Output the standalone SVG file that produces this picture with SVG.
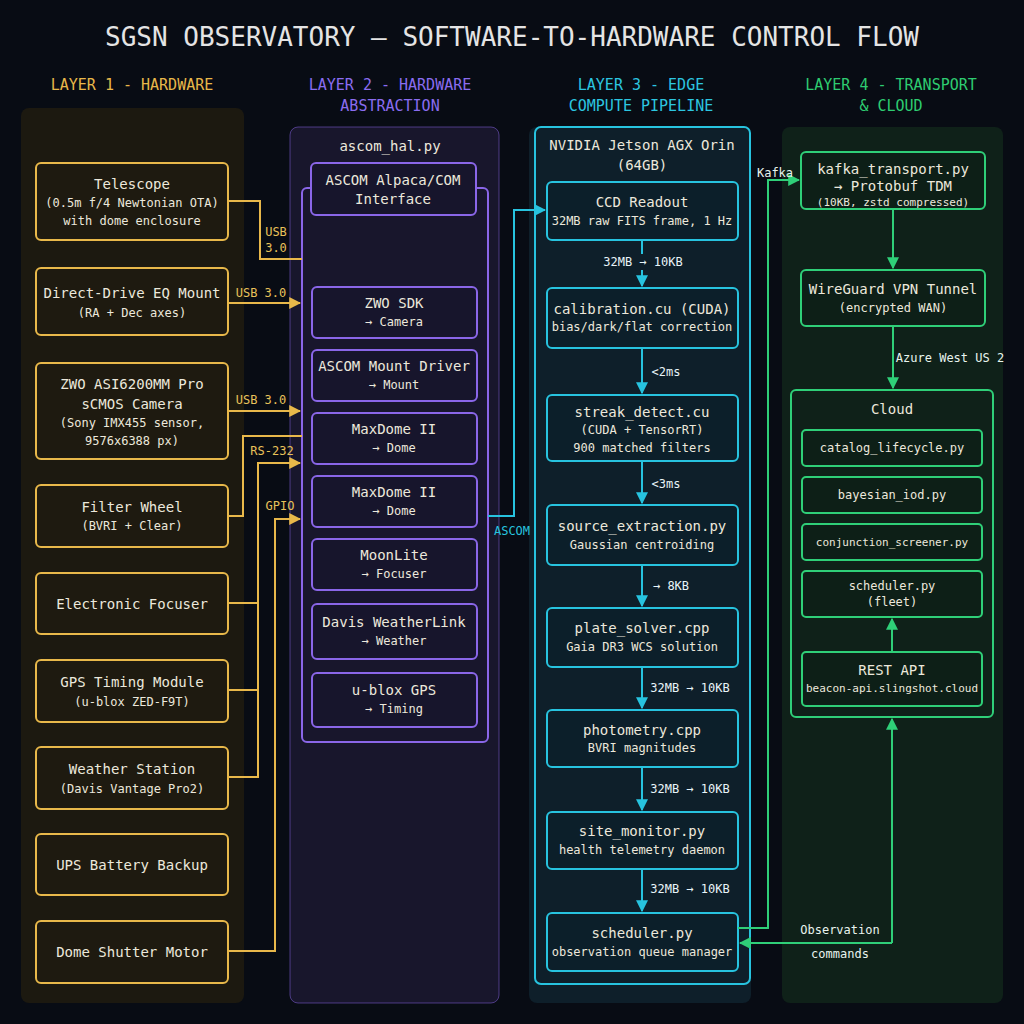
<svg xmlns="http://www.w3.org/2000/svg" width="1024" height="1024" viewBox="0 0 1024 1024">
<defs>
<style>
text{font-family:"DejaVu Sans Mono","Liberation Mono",monospace;fill:#ece8dc;text-anchor:middle}
.t{font-size:14px}.s{font-size:12px}.xs{font-size:11px}
.hdr{font-size:15px}
.n1{fill:#1e1a10;stroke:#e8b84a;stroke-width:2}
.n2{fill:#17152c;stroke:#8a66e8;stroke-width:2}
.n3{fill:#0c1f2a;stroke:#27c3df;stroke-width:2}
.n4{fill:#0d1f17;stroke:#2fcf78;stroke-width:2}
.c1{fill:none;stroke:#e8b84a;stroke-width:2}
.c3{fill:none;stroke:#27c3df;stroke-width:2}
.c4{fill:none;stroke:#2fcf78;stroke-width:2}
.l1{fill:#e8c25a;font-size:12px}
.l3{fill:#e8f4f8;font-size:12px}
.l4{fill:#e8f4ee;font-size:12px}
</style>
<marker id="a1" viewBox="0 0 10 10" refX="9" refY="5" markerWidth="6" markerHeight="6" orient="auto"><path d="M0,0L10,5L0,10z" fill="#e8b84a"/></marker>
<marker id="a3" viewBox="0 0 10 10" refX="9" refY="5" markerWidth="6" markerHeight="6" orient="auto"><path d="M0,0L10,5L0,10z" fill="#27c3df"/></marker>
<marker id="a4" viewBox="0 0 10 10" refX="9" refY="5" markerWidth="6" markerHeight="6" orient="auto"><path d="M0,0L10,5L0,10z" fill="#2fcf78"/></marker>
</defs>
<rect width="1024" height="1024" fill="#080c14"/>
<text x="512" y="46" style="font-size:26px;fill:#e4e4e4">SGSN OBSERVATORY — SOFTWARE-TO-HARDWARE CONTROL FLOW</text>

<g id="layer-headers">
<text class="hdr" x="132" y="90" style="fill:#e8b84a">LAYER 1 - HARDWARE</text>
<text class="hdr" x="390" y="90" style="fill:#8a6cf0">LAYER 2 - HARDWARE</text>
<text class="hdr" x="390" y="111" style="fill:#8a6cf0">ABSTRACTION</text>
<text class="hdr" x="641" y="90" style="fill:#2cc6e0">LAYER 3 - EDGE</text>
<text class="hdr" x="641" y="111" style="fill:#2cc6e0">COMPUTE PIPELINE</text>
<text class="hdr" x="891" y="90" style="fill:#2ecc71">LAYER 4 - TRANSPORT</text>
<text class="hdr" x="891" y="111" style="fill:#2ecc71">&amp; CLOUD</text>
</g>

<g id="panels">
<rect x="21" y="108" width="223" height="895" rx="8" fill="#1c1910"/>
<rect x="290" y="127" width="209" height="876" rx="8" fill="#18162c" stroke="#8a66e8" stroke-opacity="0.5"/>
<rect x="529" y="127" width="222" height="876" rx="8" fill="#0e1f2a"/>
<rect x="782" y="127" width="221" height="876" rx="8" fill="#0f2119"/>
</g>

<g id="layer1">
<g id="telescope"><rect class="n1" x="36" y="163" width="192" height="77" rx="5"/><text class="t" x="132" y="189">Telescope</text><text class="s" x="132" y="207">(0.5m f/4 Newtonian OTA)</text><text class="s" x="132" y="225">with dome enclosure</text></g>
<g id="mount"><rect class="n1" x="36" y="268" width="192" height="67" rx="5"/><text class="t" x="132" y="298">Direct-Drive EQ Mount</text><text class="s" x="132" y="317">(RA + Dec axes)</text></g>
<g id="camera"><rect class="n1" x="36" y="363" width="192" height="96" rx="5"/><text class="t" x="132" y="389">ZWO ASI6200MM Pro</text><text class="t" x="132" y="409">sCMOS Camera</text><text class="s" x="132" y="427">(Sony IMX455 sensor,</text><text class="s" x="132" y="445">9576x6388 px)</text></g>
<g id="filter"><rect class="n1" x="36" y="485" width="192" height="62" rx="5"/><text class="t" x="132" y="512">Filter Wheel</text><text class="s" x="132" y="530">(BVRI + Clear)</text></g>
<g id="focuser"><rect class="n1" x="36" y="573" width="192" height="61" rx="5"/><text class="t" x="132" y="609">Electronic Focuser</text></g>
<g id="gps"><rect class="n1" x="36" y="660" width="192" height="62" rx="5"/><text class="t" x="132" y="687">GPS Timing Module</text><text class="s" x="132" y="706">(u-blox ZED-F9T)</text></g>
<g id="weather"><rect class="n1" x="36" y="747" width="192" height="62" rx="5"/><text class="t" x="132" y="774">Weather Station</text><text class="s" x="132" y="793">(Davis Vantage Pro2)</text></g>
<g id="ups"><rect class="n1" x="36" y="834" width="192" height="61" rx="5"/><text class="t" x="132" y="870">UPS Battery Backup</text></g>
<g id="shutter"><rect class="n1" x="36" y="921" width="192" height="62" rx="5"/><text class="t" x="132" y="957">Dome Shutter Motor</text></g>
</g>

<g id="layer2">
<text class="t" x="390" y="151">ascom_hal.py</text>
<rect x="302" y="188" width="186" height="554" rx="5" fill="none" stroke="#8a66e8" stroke-width="2"/>
<g id="alpaca"><rect class="n2" x="311" y="163" width="165" height="52" rx="5"/><text class="t" x="393" y="185">ASCOM Alpaca/COM</text><text class="t" x="393" y="204">Interface</text></g>
<g id="zwo-sdk"><rect class="n2" x="312" y="287" width="165" height="51" rx="5"/><text class="t" x="394" y="308">ZWO SDK</text><text class="s" x="394" y="326">→ Camera</text></g>
<g id="mount-driver"><rect class="n2" x="312" y="350" width="165" height="51" rx="5"/><text class="t" x="394" y="371">ASCOM Mount Driver</text><text class="s" x="394" y="389">→ Mount</text></g>
<g id="maxdome1"><rect class="n2" x="312" y="413" width="165" height="51" rx="5"/><text class="t" x="394" y="434">MaxDome II</text><text class="s" x="394" y="452">→ Dome</text></g>
<g id="maxdome2"><rect class="n2" x="312" y="476" width="165" height="51" rx="5"/><text class="t" x="394" y="497">MaxDome II</text><text class="s" x="394" y="515">→ Dome</text></g>
<g id="moonlite"><rect class="n2" x="312" y="539" width="165" height="51" rx="5"/><text class="t" x="394" y="560">MoonLite</text><text class="s" x="394" y="578">→ Focuser</text></g>
<g id="davis"><rect class="n2" x="312" y="604" width="165" height="55" rx="5"/><text class="t" x="394" y="627">Davis WeatherLink</text><text class="s" x="394" y="645">→ Weather</text></g>
<g id="ublox"><rect class="n2" x="312" y="673" width="165" height="54" rx="5"/><text class="t" x="394" y="695">u-blox GPS</text><text class="s" x="394" y="713">→ Timing</text></g>
</g>

<g id="layer3">
<rect x="535" y="127" width="215" height="857" rx="6" fill="none" stroke="#27c3df" stroke-width="2"/>
<text class="t" x="642" y="150">NVIDIA Jetson AGX Orin</text>
<text class="t" x="642" y="170">(64GB)</text>
<g id="ccd"><rect class="n3" x="547" y="182" width="191" height="58" rx="5"/><text class="t" x="642" y="207">CCD Readout</text><text class="s" x="642" y="225">32MB raw FITS frame, 1 Hz</text></g>
<g id="calib"><rect class="n3" x="547" y="288" width="191" height="60" rx="5"/><text class="t" x="642" y="314">calibration.cu (CUDA)</text><text class="s" x="642" y="331">bias/dark/flat correction</text></g>
<g id="streak"><rect class="n3" x="547" y="395" width="191" height="66" rx="5"/><text class="t" x="642" y="417">streak_detect.cu</text><text class="s" x="642" y="434">(CUDA + TensorRT)</text><text class="s" x="642" y="452">900 matched filters</text></g>
<g id="source"><rect class="n3" x="547" y="505" width="191" height="60" rx="5"/><text class="t" x="642" y="531">source_extraction.py</text><text class="s" x="642" y="549">Gaussian centroiding</text></g>
<g id="plate"><rect class="n3" x="547" y="608" width="191" height="59" rx="5"/><text class="t" x="642" y="633">plate_solver.cpp</text><text class="s" x="642" y="651">Gaia DR3 WCS solution</text></g>
<g id="photometry"><rect class="n3" x="547" y="710" width="191" height="57" rx="5"/><text class="t" x="642" y="735">photometry.cpp</text><text class="s" x="642" y="752">BVRI magnitudes</text></g>
<g id="site-monitor"><rect class="n3" x="547" y="812" width="191" height="57" rx="5"/><text class="t" x="642" y="836">site_monitor.py</text><text class="s" x="642" y="854">health telemetry daemon</text></g>
<g id="scheduler"><rect class="n3" x="547" y="913" width="191" height="58" rx="5"/><text class="t" x="642" y="938">scheduler.py</text><text class="s" x="642" y="956">observation queue manager</text></g>
</g>

<g id="layer4">
<g id="kafka"><rect class="n4" x="801" y="152" width="184" height="57" rx="5"/><text class="t" x="893" y="174">kafka_transport.py</text><text class="t" x="893" y="191">→ Protobuf TDM</text><text class="xs" x="893" y="206">(10KB, zstd compressed)</text></g>
<g id="wireguard"><rect class="n4" x="801" y="270" width="184" height="56" rx="5"/><text class="t" x="893" y="294">WireGuard VPN Tunnel</text><text class="s" x="893" y="312">(encrypted WAN)</text></g>
<g id="cloud"><rect x="791" y="390" width="202" height="327" rx="5" fill="none" stroke="#2fcf78" stroke-width="2"/><text class="t" x="892" y="414">Cloud</text></g>
<g id="catalog"><rect class="n4" x="802" y="430" width="180" height="36" rx="4"/><text class="s" x="892" y="452">catalog_lifecycle.py</text></g>
<g id="bayesian"><rect class="n4" x="802" y="477" width="180" height="36" rx="4"/><text class="s" x="892" y="499">bayesian_iod.py</text></g>
<g id="conjunction"><rect class="n4" x="802" y="524" width="180" height="36" rx="4"/><text class="xs" x="892" y="546">conjunction_screener.py</text></g>
<g id="fleet"><rect class="n4" x="802" y="571" width="180" height="46" rx="4"/><text class="s" x="892" y="590">scheduler.py</text><text class="s" x="892" y="606">(fleet)</text></g>
<g id="rest"><rect class="n4" x="802" y="652" width="180" height="54" rx="4"/><text class="t" x="892" y="675">REST API</text><text class="xs" x="892" y="692">beacon-api.slingshot.cloud</text></g>
</g>

<g id="connectors">
<path class="c1" d="M228,201H260V259H302"/>
<text class="l1" x="276" y="236">USB</text><text class="l1" x="276" y="252">3.0</text>
<path class="c1" d="M228,303H300" marker-end="url(#a1)"/>
<text class="l1" x="261" y="297">USB 3.0</text>
<path class="c1" d="M228,411H300" marker-end="url(#a1)"/>
<text class="l1" x="261" y="404">USB 3.0</text>
<path class="c1" d="M228,516H243V436H302"/>
<text class="l1" x="272" y="455">RS-232</text>
<path class="c1" d="M228,603H258M228,690H258M228,777H258V463H300" marker-end="url(#a1)"/>
<path class="c1" d="M228,951H275V519H300" marker-end="url(#a1)"/>
<text class="l1" x="280" y="510">GPIO</text>

<path class="c3" d="M488,516H514V210H545" marker-end="url(#a3)"/>
<text x="512" y="535" style="font-size:12px;fill:#27c3df">ASCOM</text>
<path class="c3" d="M642,240V286" marker-end="url(#a3)"/>
<rect x="598" y="254" width="90" height="16" fill="#0e1f2a"/>
<text class="l3" x="643" y="266">32MB → 10KB</text>
<path class="c3" d="M642,348V393" marker-end="url(#a3)"/>
<text class="l3" x="666" y="376">&lt;2ms</text>
<path class="c3" d="M642,461V503" marker-end="url(#a3)"/>
<text class="l3" x="666" y="488">&lt;3ms</text>
<path class="c3" d="M642,565V606" marker-end="url(#a3)"/>
<text class="l3" x="671" y="590">→ 8KB</text>
<path class="c3" d="M642,667V708" marker-end="url(#a3)"/>
<text class="l3" x="690" y="692">32MB → 10KB</text>
<path class="c3" d="M642,767V810" marker-end="url(#a3)"/>
<text class="l3" x="690" y="793">32MB → 10KB</text>
<path class="c3" d="M642,869V911" marker-end="url(#a3)"/>
<text class="l3" x="690" y="893">32MB → 10KB</text>

<path class="c4" d="M738,928H768V180H799" marker-end="url(#a4)"/>
<text class="l4" x="775" y="177">Kafka</text>
<path class="c4" d="M893,209V268" marker-end="url(#a4)"/>
<path class="c4" d="M893,326V388" marker-end="url(#a4)"/>
<text class="l4" x="950" y="362">Azure West US 2</text>
<path class="c4" d="M892,652V619" marker-end="url(#a4)"/>
<path class="c4" d="M892,943V719" marker-end="url(#a4)"/>
<path class="c4" d="M892,943H740" marker-end="url(#a4)"/>
<text class="l4" x="840" y="934">Observation</text>
<text class="l4" x="840" y="958">commands</text>
</g>
</svg>
